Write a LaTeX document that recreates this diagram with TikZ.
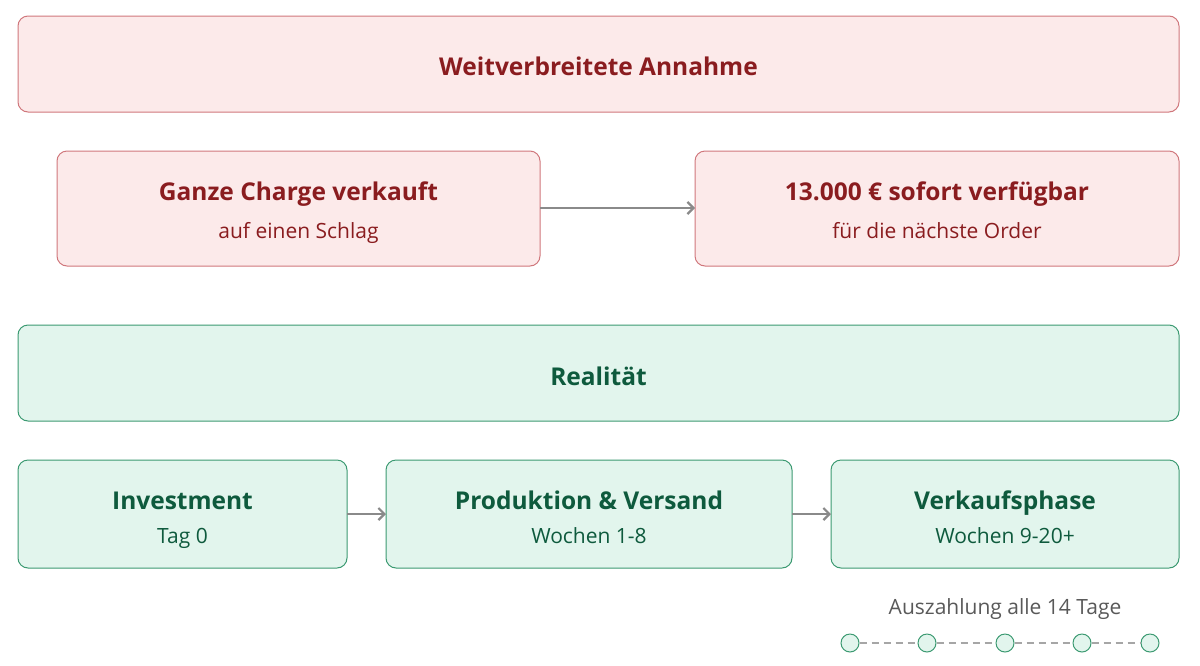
\documentclass[tikz,border=0pt]{standalone}
\usepackage{fontspec}
\setmainfont{Open Sans}
\usetikzlibrary{arrows.meta}
\definecolor{rfill}{HTML}{FCEAEA}\definecolor{rdraw}{HTML}{D0777C}\definecolor{rtext}{HTML}{8A1C1F}
\definecolor{gfill}{HTML}{E2F5ED}\definecolor{gdraw}{HTML}{3C9A72}\definecolor{gtext}{HTML}{0E5A3D}
\definecolor{arr}{HTML}{8A8A8A}
\begin{document}
\begin{tikzpicture}[x=1pt,y=-1pt,
 rbox/.style={draw=rdraw,fill=rfill,rounded corners=10pt,line width=1pt},
 gbox/.style={draw=gdraw,fill=gfill,rounded corners=10pt,line width=1pt},
 t/.style={anchor=base,font=\fontsize{24.5}{28}\selectfont\bfseries},
 s/.style={anchor=base,font=\fontsize{21}{24}\selectfont},
 ar/.style={draw=arr,line width=2.2pt,-{Straight Barb[length=6pt,width=12pt]}},
 dot/.style={circle,draw=gdraw,fill=gfill,minimum size=18pt,inner sep=0pt,line width=1pt}]
\useasboundingbox (0,0) rectangle (1200,665);
\draw[rbox] (18,16) rectangle (1179,112);
\node[t,text=rtext] (h1) at (598.5,75) {Weitverbreitete Annahme};
\draw[rbox] (57,151) rectangle (540,266);
\coordinate (a1) at (540,208);
\node[t,text=rtext] (n1) at (298.5,200) {Ganze Charge verkauft};
\node[s,text=rtext] (n1s) at (298.5,238) {auf einen Schlag};
\draw[rbox] (695,151) rectangle (1179,266);
\coordinate (a2) at (695,208);
\node[t,text=rtext] (n2) at (937,200) {13.000 € sofort verfügbar};
\node[s,text=rtext] (n2s) at (937,238) {für die nächste Order};
\draw[ar] (a1) -- (a2);
\draw[gbox] (18,325) rectangle (1179,421);
\node[t,text=gtext] (h2) at (598.5,385) {Realität};
\draw[gbox] (18,460) rectangle (347,568);
\draw[gbox] (386,460) rectangle (792,568);
\draw[gbox] (831,460) rectangle (1179,568);
\node[t,text=gtext] (m1) at (182.5,509) {Investment};
\node[s,text=gtext] (m1s) at (182.5,543) {Tag 0};
\node[t,text=gtext] (m2) at (589,509) {Produktion \& Versand};
\node[s,text=gtext] (m2s) at (589,543) {Wochen 1-8};
\node[t,text=gtext] (m3) at (1005,509) {Verkaufsphase};
\node[s,text=gtext] (m3s) at (1005,543) {Wochen 9-20+};
\coordinate (b1) at (347,514);\coordinate (b2) at (386,514);
\coordinate (b3) at (792,514);\coordinate (b4) at (831,514);
\draw[ar] (b1) -- (b2);
\draw[ar] (b3) -- (b4);
\node[s,text=black!65] (pay) at (1005,614) {Auszahlung alle 14 Tage};
\foreach \i/\x in {1/850,2/927,3/1005,4/1082,5/1150}{\node[dot] (d\i) at (\x,643) {};}
\foreach \i/\j in {1/2,2/3,3/4,4/5}{\draw[black!35,line width=1.2pt,dash pattern=on 7pt off 5pt] (d\i) -- (d\j);}
\end{tikzpicture}
\end{document}
